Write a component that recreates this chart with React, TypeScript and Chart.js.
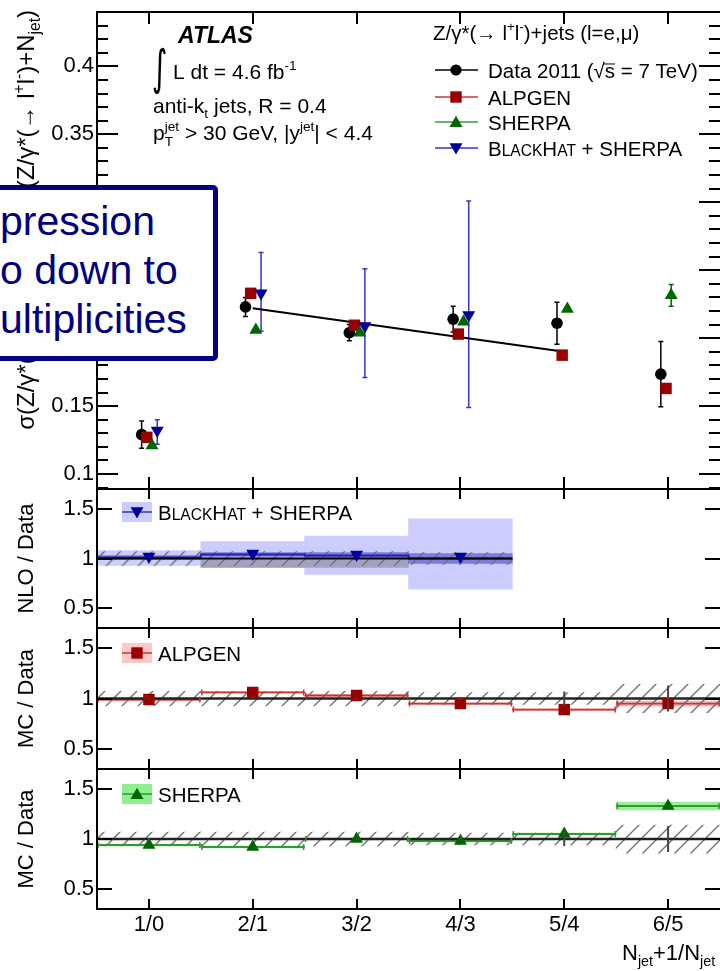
import React, { useEffect, useRef } from "react";
import { Chart, registerables } from "chart.js";

Chart.register(...registerables);

const FONT = "'Liberation Sans', Arial, Helvetica, sans-serif";
Chart.defaults.font.family = FONT;
Chart.defaults.color = "#000";

// ---------------- data ----------------
const categories = ["1/0", "2/1", "3/2", "4/3", "5/4", "6/5"];
const binCenters = [1, 2, 3, 4, 5, 6];
const mainYTicks = [0.1, 0.15, 0.2, 0.25, 0.3, 0.35, 0.4];
const ratioYTicks = [0.5, 1, 1.5];

const dataValues = [0.129, 0.223, 0.204, 0.214, 0.211, 0.1735];
const dataErrors = [0.01, 0.007, 0.006, 0.0095, 0.0155, 0.024];
const alpgenValues = [0.127, 0.233, 0.2095, 0.203, 0.1875, 0.163];
const sherpaValues = [0.121, 0.206, 0.204, 0.212, 0.2215, 0.2315];
const sherpaErrors = [0, 0, 0, 0, 0, 0.008];
const blackhatValues = [0.132, 0.233, 0.209, 0.217];
const blackhatErrUp = [0.008, 0.03, 0.042, 0.084];
const blackhatErrDown = [0.01, 0.028, 0.038, 0.068];
const fitX = [2, 5];
const fitY = [0.222, 0.19];

const dataBandHalf = [0.07, 0.07, 0.07, 0.06, 0.06, 0.14];
const dataStatHalf = [0.01, 0.01, 0.01, 0.015, 0.07, 0.13];

const nloMarkers = [1.02, 1.05, 1.04, 1.02];
const nloCentral = [1.01, 1.04, 1.03, 1.0];
const nloTotalLo = [0.93, 0.91, 0.84, 0.69];
const nloTotalHi = [1.08, 1.17, 1.225, 1.4];
const nloScaleLo = [0.99, 1.02, 1.0, 0.95];
const nloScaleHi = [1.03, 1.06, 1.06, 1.05];
const nloPdfLo = [null, 0.91, 0.91, null];
const nloPdfHi = [null, 1.0, 1.0, null];

const alpgenOverData = [0.99, 1.06, 1.03, 0.95, 0.89, 0.95];
const alpgenBandHalf = [0.008, 0.008, 0.008, 0.008, 0.008, 0.025];
const sherpaOverData = [0.94, 0.92, 1.0, 0.98, 1.05, 1.33];
const sherpaBandHalf = [0.008, 0.008, 0.008, 0.008, 0.008, 0.04];

// ---------------- helpers ----------------
type Seg = { t?: string; k?: "sup" | "sub"; sc?: number; over?: boolean; sub?: string; sup?: string; style?: string };

function drawRich(ctx: CanvasRenderingContext2D, segs: Seg[], x: number, y: number, size: number, color: string, align: string = "left") {
  ctx.save();
  ctx.fillStyle = color;
  ctx.strokeStyle = color;
  ctx.textAlign = "left";
  ctx.textBaseline = "alphabetic";
  const small = size * 0.65;
  const items: any[] = [];
  let total = 0;
  for (const seg of segs) {
    let w = 0;
    let fs = size;
    if (seg.sub !== undefined || seg.sup !== undefined) {
      fs = small;
      ctx.font = `${fs}px ${FONT}`;
      w = Math.max(ctx.measureText(seg.sub ?? "").width, ctx.measureText(seg.sup ?? "").width);
    } else {
      fs = seg.k ? small : size * (seg.sc ?? 1);
      ctx.font = `${seg.style ?? ""}${fs}px ${FONT}`;
      w = ctx.measureText(seg.t ?? "").width;
    }
    items.push({ seg, w, fs });
    total += w;
  }
  let cx = align === "right" ? x - total : align === "center" ? x - total / 2 : x;
  for (const { seg, w, fs } of items) {
    if (seg.sub !== undefined || seg.sup !== undefined) {
      ctx.font = `${fs}px ${FONT}`;
      if (seg.sup) ctx.fillText(seg.sup, cx, y - size * 0.42);
      if (seg.sub) ctx.fillText(seg.sub, cx, y + size * 0.3);
    } else {
      ctx.font = `${seg.style ?? ""}${fs}px ${FONT}`;
      const dy = seg.k === "sup" ? -size * 0.42 : seg.k === "sub" ? size * 0.25 : 0;
      ctx.fillText(seg.t ?? "", cx, y + dy);
      if (seg.over) {
        ctx.lineWidth = 1;
        ctx.beginPath();
        ctx.moveTo(cx - 1, y - size * 0.66);
        ctx.lineTo(cx + w, y - size * 0.66);
        ctx.stroke();
      }
    }
    cx += w;
  }
  ctx.restore();
  return total;
}

function drawMarker(ctx: CanvasRenderingContext2D, style: string, x: number, y: number, color: string) {
  ctx.save();
  ctx.fillStyle = color;
  ctx.beginPath();
  const r = 7.5;
  if (style === "circle") ctx.arc(x, y, 5.6, 0, Math.PI * 2);
  else if (style === "rect") ctx.rect(x - 5.7, y - 5.7, 11.4, 11.4);
  else if (style === "tri") {
    ctx.moveTo(x, y - r * 0.85);
    ctx.lineTo(x + r * 0.866, y + r * 0.65);
    ctx.lineTo(x - r * 0.866, y + r * 0.65);
    ctx.closePath();
  } else {
    ctx.moveTo(x, y + r * 0.85);
    ctx.lineTo(x + r * 0.866, y - r * 0.65);
    ctx.lineTo(x - r * 0.866, y - r * 0.65);
    ctx.closePath();
  }
  ctx.fill();
  ctx.restore();
}

const BH_SEGS: Seg[] = [{ t: "B" }, { t: "LACK", sc: 0.76 }, { t: "H" }, { t: "AT", sc: 0.76 }, { t: " + SHERPA" }];

function xScale(show: boolean) {
  return {
    type: "linear",
    min: 0.5,
    max: 6.5,
    offset: false,
    position: "bottom",
    grid: { display: false, drawTicks: false, offset: false },
    border: { display: false },
    afterBuildTicks: (s: any) => {
      s.ticks = binCenters.map((v) => ({ value: v }));
    },
    ticks: {
      display: show,
      autoSkip: false,
      maxRotation: 0,
      padding: 3,
      font: { size: 22 },
      color: "#000",
      callback: (_v: any, i: number) => categories[i],
    },
    afterFit: (s: any) => {
      s.height = show ? 62 : 0;
      s.paddingLeft = 0;
      s.paddingRight = 0;
      s.paddingTop = 0;
      s.paddingBottom = 0;
    },
  };
}

function yScale(min: number, max: number, ticks: number[]) {
  return {
    type: "linear",
    min,
    max,
    position: "left",
    grid: { display: false, drawTicks: false },
    border: { display: false },
    afterBuildTicks: (s: any) => {
      s.ticks = ticks.map((v) => ({ value: v }));
    },
    ticks: {
      autoSkip: false,
      padding: 3,
      font: { size: 22 },
      color: "#000",
      callback: (v: any) => String(Number(Number(v).toFixed(2))),
    },
    afterFit: (s: any) => {
      s.width = 97;
      s.paddingTop = 0;
      s.paddingBottom = 0;
      s.paddingLeft = 0;
      s.paddingRight = 0;
    },
  };
}

function baseOptions(padTop: number, padBottom: number, showX: boolean, yMin: number, yMax: number, yTicks: number[]) {
  return {
    animation: false,
    responsive: false,
    maintainAspectRatio: false,
    events: [],
    layout: { autoPadding: false, padding: { top: padTop, bottom: padBottom, left: 0, right: 3 } },
    plugins: { legend: { display: false }, tooltip: { enabled: false }, title: { display: false } },
    scales: { x: xScale(showX), y: yScale(yMin, yMax, yTicks) },
  };
}

function framePlugin(major: number[], minor: number[], majorLen: number, minorLen: number, xLen: number) {
  return {
    id: "frame",
    afterDraw(chart: any) {
      const { ctx, chartArea: a } = chart;
      const x = chart.scales.x;
      const y = chart.scales.y;
      ctx.save();
      ctx.strokeStyle = "#000";
      ctx.lineWidth = 2;
      ctx.beginPath();
      ctx.moveTo(a.right + 2, a.top);
      ctx.lineTo(a.left, a.top);
      ctx.lineTo(a.left, a.bottom);
      ctx.lineTo(a.right + 2, a.bottom);
      ctx.stroke();
      ctx.beginPath();
      for (const v of major) {
        const py = Math.round(y.getPixelForValue(v));
        ctx.moveTo(a.left, py);
        ctx.lineTo(a.left + majorLen, py);
        ctx.moveTo(a.right, py);
        ctx.lineTo(a.right - majorLen, py);
      }
      for (const v of minor) {
        const py = Math.round(y.getPixelForValue(v));
        ctx.moveTo(a.left, py);
        ctx.lineTo(a.left + minorLen, py);
        ctx.moveTo(a.right, py);
        ctx.lineTo(a.right - minorLen, py);
      }
      for (const c of binCenters) {
        const px = Math.round(x.getPixelForValue(c));
        ctx.moveTo(px, a.top);
        ctx.lineTo(px, a.top + xLen);
        ctx.moveTo(px, a.bottom);
        ctx.lineTo(px, a.bottom - xLen);
      }
      ctx.stroke();
      ctx.restore();
    },
  };
}

const pts = (vals: number[], shift: number) => vals.map((v, i) => ({ x: binCenters[i] + shift, y: v }));
const bars = (lo: (number | null)[], hi: (number | null)[]) =>
  lo.map((l, i) => (l === null || hi[i] === null ? null : { x: binCenters[i], y: [l, hi[i]] })).filter((d) => d !== null);
const bandAround = (center: number[], half: number[]) => center.map((c, i) => ({ x: binCenters[i], y: [c - half[i], c + half[i]] }));
const stepLine = (vals: number[]) => vals.flatMap((v, i) => [{ x: binCenters[i] - 0.5, y: v }, { x: binCenters[i] + 0.5, y: v }]);
const segLine = (vals: number[]) =>
  vals.flatMap((v, i) => [{ x: binCenters[i] - 0.5, y: v }, { x: binCenters[i] + 0.5, y: v }, { x: binCenters[i] + 0.5, y: null }]);

const barDefaults = { type: "bar", borderWidth: 0, barPercentage: 1, categoryPercentage: 1, grouped: false };

// ---------------- main panel ----------------
function mainConfig() {
  const minor: number[] = [];
  for (let k = 9; k <= 44; k++) if (k % 5 !== 0) minor.push(k / 100);
  const textPlugin = {
    id: "mainText",
    beforeDatasetsDraw(chart: any) {
      const { ctx } = chart;
      const x = chart.scales.x;
      const y = chart.scales.y;
      const err = (xv: number, lo: number, hi: number, color: string, cap: number) => {
        const px = x.getPixelForValue(xv);
        const p1 = y.getPixelForValue(lo);
        const p2 = y.getPixelForValue(hi);
        ctx.save();
        ctx.strokeStyle = color;
        ctx.lineWidth = 1.5;
        ctx.beginPath();
        ctx.moveTo(px, p1);
        ctx.lineTo(px, p2);
        ctx.moveTo(px - cap, p1);
        ctx.lineTo(px + cap, p1);
        ctx.moveTo(px - cap, p2);
        ctx.lineTo(px + cap, p2);
        ctx.stroke();
        ctx.restore();
      };
      dataValues.forEach((v, i) => err(binCenters[i] - 0.07, v - dataErrors[i], v + dataErrors[i], "#000", 2.5));
      sherpaValues.forEach((v, i) => {
        if (sherpaErrors[i] > 0) err(binCenters[i] + 0.03, v - sherpaErrors[i], v + sherpaErrors[i], "#006600", 2.5);
      });
      blackhatValues.forEach((v, i) => err(binCenters[i] + 0.08, v - blackhatErrDown[i], v + blackhatErrUp[i], "#3535cc", 2.5));
    },
    afterDraw(chart: any) {
      const { ctx } = chart;
      ctx.save();
      ctx.translate(34, 10);
      ctx.rotate(-Math.PI / 2);
      drawRich(
        ctx,
        [
          { t: "σ(Z/γ*(→ l" }, { t: "+", k: "sup" }, { t: "l" }, { t: "-", k: "sup" }, { t: ")+N" }, { t: "jet", k: "sub" },
          { t: "+1)/σ(Z/γ*(→ l" }, { t: "+", k: "sup" }, { t: "l" }, { t: "-", k: "sup" }, { t: ")+N" }, { t: "jet", k: "sub" }, { t: ")" },
        ],
        0, 0, 24, "#000", "right"
      );
      ctx.restore();
      drawRich(ctx, [{ t: "ATLAS", style: "italic bold " }], 178, 43, 23, "#000");
      ctx.save();
      ctx.fillStyle = "#000";
      ctx.font = "40px 'DejaVu Sans'";
      ctx.translate(152, 84);
      ctx.scale(0.75, 1.2);
      ctx.fillText("∫", 0, 0);
      ctx.restore();
      drawRich(ctx, [{ t: "L dt = 4.6 fb" }, { t: "-1", k: "sup" }], 173, 79, 21, "#000");
      drawRich(ctx, [{ t: "anti-k" }, { t: "t", k: "sub" }, { t: " jets, R = 0.4" }], 153, 113, 21, "#000");
      drawRich(ctx, [{ t: "p" }, { sub: "T", sup: "jet" }, { t: " > 30 GeV, |y" }, { t: "jet", k: "sup" }, { t: "| < 4.4" }], 153, 140, 21, "#000");
      drawRich(ctx, [{ t: "Z/γ*(→ l" }, { t: "+", k: "sup" }, { t: "l" }, { t: "-", k: "sup" }, { t: ")+jets (l=e,μ)" }], 433, 40, 20.5, "#000");
      const entries = [
        { y: 70, style: "circle", color: "#000", line: "#000", segs: [{ t: "Data 2011 (" }, { t: "√" }, { t: "s", over: true }, { t: " = 7 TeV)" }] },
        { y: 97, style: "rect", color: "#990000", line: "#cc3333", segs: [{ t: "ALPGEN" }] },
        { y: 122, style: "tri", color: "#006600", line: "#3a9a3a", segs: [{ t: "SHERPA" }] },
        { y: 148, style: "tridown", color: "#000099", line: "#3535cc", segs: BH_SEGS },
      ];
      for (const e of entries) {
        ctx.save();
        ctx.strokeStyle = e.line;
        ctx.lineWidth = 1.5;
        ctx.beginPath();
        ctx.moveTo(435, e.y);
        ctx.lineTo(478, e.y);
        ctx.stroke();
        ctx.restore();
        drawMarker(ctx, e.style, 456, e.y, e.color);
        drawRich(ctx, e.segs as Seg[], 488, e.y + 7.5, 20.5, "#000");
      }
    },
  };
  return {
    type: "scatter",
    data: {
      datasets: [
        { type: "line", data: fitX.map((xv, i) => ({ x: xv, y: fitY[i] })), borderColor: "#000", borderWidth: 2, pointRadius: 0, order: 10 },
        { data: pts(dataValues, -0.07), pointStyle: "circle", pointRadius: 5.8, backgroundColor: "#000", borderWidth: 0, order: 4 },
        { data: pts(alpgenValues, -0.02), pointStyle: "rect", pointRadius: 8.1, backgroundColor: "#990000", borderWidth: 0, order: 3 },
        { data: pts(sherpaValues, 0.03), pointStyle: "triangle", pointRadius: 7.5, backgroundColor: "#006600", borderWidth: 0, order: 2 },
        { data: pts(blackhatValues, 0.08), pointStyle: "triangle", pointRotation: 180, pointRadius: 7.5, backgroundColor: "#000099", borderWidth: 0, order: 1 },
      ],
    },
    options: baseOptions(12, 11, false, 0.089, 0.44, mainYTicks),
    plugins: [textPlugin, framePlugin(mainYTicks, minor, 21, 11, 12)],
  };
}

// ---------------- ratio panels ----------------
function ratioPlugin(top: number, title: string, legend: any, caps: any, stat: boolean) {
  return {
    id: "ratioText",
    afterDatasetsDraw(chart: any) {
      const { ctx } = chart;
      const x = chart.scales.x;
      const y = chart.scales.y;
      ctx.save();
      if (caps) {
        ctx.strokeStyle = caps.color;
        ctx.lineWidth = 1.5;
        ctx.beginPath();
        caps.values.forEach((v: number, i: number) => {
          const py = y.getPixelForValue(v);
          const l = x.getPixelForValue(binCenters[i] - 0.5) + 1;
          const r = x.getPixelForValue(binCenters[i] + 0.5) - 1;
          ctx.moveTo(l, py - 3);
          ctx.lineTo(l, py + 3);
          ctx.moveTo(r, py - 3);
          ctx.lineTo(r, py + 3);
        });
        ctx.stroke();
      }
      if (stat) {
        ctx.strokeStyle = "#444";
        ctx.lineWidth = 2;
        ctx.beginPath();
        dataStatHalf.forEach((h, i) => {
          const px = x.getPixelForValue(binCenters[i]);
          ctx.moveTo(px, y.getPixelForValue(1 - h));
          ctx.lineTo(px, y.getPixelForValue(1 + h));
        });
        ctx.stroke();
      }
      ctx.restore();
    },
    afterDraw(chart: any) {
      const { ctx } = chart;
      ctx.save();
      ctx.translate(0, -top);
      const a = chart.chartArea;
      const mid = top + (a.top + a.bottom) / 2;
      ctx.save();
      ctx.translate(33, mid);
      ctx.rotate(-Math.PI / 2);
      drawRich(ctx, [{ t: title }], 0, 0, 22, "#000", "center");
      ctx.restore();
      ctx.fillStyle = legend.box;
      ctx.fillRect(122, legend.y - 10, 30, 20);
      ctx.strokeStyle = legend.line;
      ctx.lineWidth = 1.5;
      ctx.beginPath();
      ctx.moveTo(122, legend.y);
      ctx.lineTo(152, legend.y);
      ctx.stroke();
      drawMarker(ctx, legend.style, 137, legend.y, legend.color);
      drawRich(ctx, legend.segs, 158, legend.y + 7.5, 20.5, "#000");
      if (legend.xtitle) {
        drawRich(ctx, [{ t: "N" }, { t: "jet", k: "sub" }, { t: "+1/N" }, { t: "jet", k: "sub" }], 622, 960, 22, "#000");
      }
      ctx.restore();
    },
  };
}

function nloConfig(pattern: any, top: number) {
  return {
    type: "scatter",
    data: {
      datasets: [
        { ...barDefaults, data: bars(nloTotalLo, nloTotalHi), backgroundColor: "#ccccff", order: 20 },
        { ...barDefaults, data: bars(nloPdfLo, nloPdfHi), backgroundColor: "#a2a2c0", order: 19 },
        { ...barDefaults, data: bars(nloScaleLo, nloScaleHi), backgroundColor: "rgba(70,70,205,0.6)", order: 18 },
        { ...barDefaults, data: bandAround([1, 1, 1, 1], dataBandHalf.slice(0, 4)), backgroundColor: pattern, order: 15 },
        { type: "line", data: stepLine(nloCentral), borderColor: "#2020b0", borderWidth: 2, pointRadius: 0, order: 10 },
        { type: "line", data: [{ x: 0.5, y: 1 }, { x: 4.5, y: 1 }], borderColor: "#000", borderWidth: 2, pointRadius: 0, order: 9 },
        { data: pts(nloMarkers, 0), pointStyle: "triangle", pointRotation: 180, pointRadius: 7.5, backgroundColor: "#000099", borderWidth: 0, order: 1 },
      ],
    },
    options: baseOptions(9, 12, false, 0.3, 1.7, ratioYTicks),
    plugins: [
      ratioPlugin(top, "NLO / Data", { y: 512, box: "#ccccff", line: "#3535cc", style: "tridown", color: "#000099", segs: BH_SEGS }, null, false),
      framePlugin(ratioYTicks, [], 15, 8, 10),
    ],
  };
}

function mcConfig(pattern: any, top: number, kind: string, showX: boolean) {
  const isA = kind === "alpgen";
  const vals = isA ? alpgenOverData : sherpaOverData;
  const half = isA ? alpgenBandHalf : sherpaBandHalf;
  const band = isA ? "#f5b8b8" : "#99ee99";
  const line = isA ? "#cc3333" : "#2f9a2f";
  const mcol = isA ? "#990000" : "#006600";
  const style = isA ? "rect" : "triangle";
  return {
    type: "scatter",
    data: {
      datasets: [
        { ...barDefaults, data: bandAround(vals, half), backgroundColor: band, order: 20 },
        { ...barDefaults, data: bandAround([1, 1, 1, 1, 1, 1], dataBandHalf), backgroundColor: pattern, order: 15 },
        { type: "line", data: segLine(vals), borderColor: line, borderWidth: 1.8, pointRadius: 0, spanGaps: false, order: 10 },
        { type: "line", data: [{ x: 0.5, y: 1 }, { x: 6.5, y: 1 }], borderColor: "#222", borderWidth: 2.5, pointRadius: 0, order: 9 },
        { data: pts(vals, 0), pointStyle: style, pointRadius: isA ? 8.1 : 7.5, backgroundColor: mcol, borderWidth: 0, order: 1 },
      ],
    },
    options: baseOptions(showX ? 9 : 8, showX ? 0 : 11, showX, 0.3, 1.7, ratioYTicks),
    plugins: [
      ratioPlugin(
        top,
        "MC / Data",
        {
          y: isA ? 653 : 794,
          box: isA ? "#ffc8c8" : "#8fee8f",
          line: line,
          style: isA ? "rect" : "tri",
          color: mcol,
          segs: [{ t: isA ? "ALPGEN" : "SHERPA" }],
          xtitle: showX,
        },
        { values: vals, color: line },
        true
      ),
      framePlugin(ratioYTicks, [], 15, 8, 10),
    ],
  };
}

function makeHatch(canvas: HTMLCanvasElement) {
  const tile = document.createElement("canvas");
  tile.width = 16;
  tile.height = 16;
  const g = tile.getContext("2d")!;
  g.strokeStyle = "#707070";
  g.lineWidth = 1.4;
  g.beginPath();
  g.moveTo(-2, 18);
  g.lineTo(18, -2);
  g.moveTo(-4, 4);
  g.lineTo(4, -4);
  g.moveTo(12, 20);
  g.lineTo(20, 12);
  g.stroke();
  return canvas.getContext("2d")!.createPattern(tile, "repeat");
}

const TOPS = { a: 0, b: 480, c: 620, d: 760 };
const CANVAS_W = 723;

export default function App() {
  const refA = useRef<HTMLCanvasElement>(null);
  const refB = useRef<HTMLCanvasElement>(null);
  const refC = useRef<HTMLCanvasElement>(null);
  const refD = useRef<HTMLCanvasElement>(null);

  useEffect(() => {
    const charts: Chart[] = [];
    charts.push(new Chart(refA.current!, mainConfig() as any));
    charts.push(new Chart(refB.current!, nloConfig(makeHatch(refB.current!), TOPS.b) as any));
    charts.push(new Chart(refC.current!, mcConfig(makeHatch(refC.current!), TOPS.c, "alpgen", false) as any));
    charts.push(new Chart(refD.current!, mcConfig(makeHatch(refD.current!), TOPS.d, "sherpa", true) as any));
    return () => charts.forEach((c) => c.destroy());
  }, []);

  const cv = (top: number): React.CSSProperties => ({ position: "absolute", left: 0, top });

  return (
    <div style={{ position: "fixed", left: 0, top: 0, width: 720, height: 971, overflow: "hidden", background: "#fff" }}>
      <canvas ref={refA} width={CANVAS_W} height={500} style={cv(TOPS.a)} />
      <canvas ref={refB} width={CANVAS_W} height={160} style={cv(TOPS.b)} />
      <canvas ref={refC} width={CANVAS_W} height={160} style={cv(TOPS.c)} />
      <canvas ref={refD} width={CANVAS_W} height={211} style={cv(TOPS.d)} />
      <div
        style={{
          position: "absolute",
          left: -30,
          top: 185,
          width: 248,
          height: 176,
          boxSizing: "border-box",
          border: "5px solid #000080",
          borderRadius: 5,
          background: "#fff",
          color: "#000080",
          fontFamily: FONT,
          fontSize: 41,
          lineHeight: "49px",
          paddingTop: 7,
          paddingLeft: 25,
          whiteSpace: "nowrap",
          overflow: "hidden",
        }}
      >
        <div>pression</div>
        <div>o down to</div>
        <div>ultiplicities</div>
      </div>
    </div>
  );
}
